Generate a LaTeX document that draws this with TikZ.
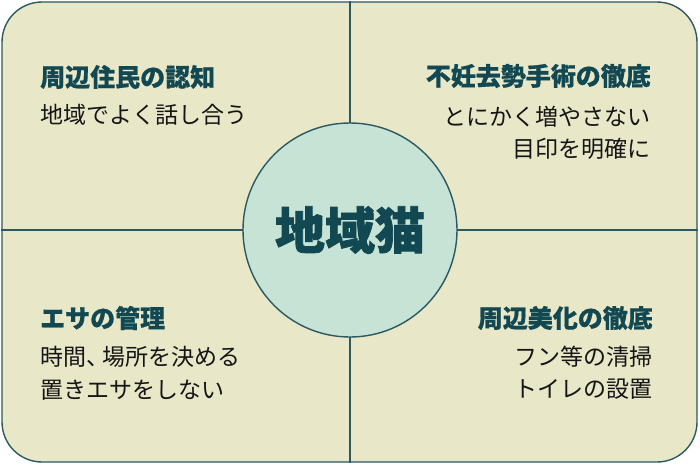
\documentclass[tikz,border=0pt]{standalone}
\usepackage{fontspec}
\newfontfamily\jp{Noto Sans CJK JP}[BoldFeatures={FakeBold=1.5}]
\newfontfamily\jpt{Noto Sans CJK JP}[BoldFeatures={FakeBold=0.6}]
\newfontfamily\jpb{Noto Sans CJK JP}
\definecolor{bgfill}{HTML}{E8E7C8}
\definecolor{edge}{HTML}{2B5861}
\definecolor{circfill}{HTML}{C6E3D5}
\definecolor{titlecol}{HTML}{114852}
\definecolor{bodycol}{HTML}{151515}
\tikzset{
  panel/.style={draw=edge, line width=1.4pt, fill=bgfill, rounded corners=40pt, inner sep=0pt},
  divider/.style={draw=edge, line width=1.2pt},
  hub/.style={circle, draw=edge, line width=1.4pt, fill=circfill, minimum size=214pt, inner sep=0pt,
    text=titlecol, font=\jp\bfseries\fontsize{50}{50}\selectfont},
  ttl/.style={inner sep=0pt, text=titlecol, font=\jpt\bfseries\fontsize{25}{25}\selectfont},
  bodytxt/.style={inner sep=0pt, text=bodycol, font=\jpb\fontsize{23}{23}\selectfont}
}
\begin{document}
\begin{tikzpicture}[x=1pt,y=-1pt]
\useasboundingbox (0,0) rectangle (700,464);
\node[panel, minimum width=695pt, minimum height=460pt] (frame) at (349.5,232) {};
\coordinate (hubc) at (350,230);
\draw[divider] (hubc |- frame.north) -- (hubc |- frame.south);
\draw[divider] (hubc -| frame.west) -- (hubc -| frame.east);
\node[hub] (hub) at (hubc) {地域猫};
% top left
\node[ttl, anchor=west] (t1) at (40,77) {周辺住民の認知};
\node[bodytxt, anchor=west] (b1) at (40,115) {地域でよく話し合う};
% top right
\node[ttl, anchor=east] (t2) at (651,76) {不妊去勢手術の徹底};
\node[bodytxt, anchor=east] (b2a) at (651,117) {とにかく増やさない};
\node[bodytxt, anchor=east] (b2b) at (651,149) {目印を明確に};
% bottom left
\node[ttl, anchor=west] (t3) at (40,318) {エサの管理};
\node[bodytxt, anchor=west] (b3a) at (40,357) {時間、\hspace{-0.3em}場所を決める};
\node[bodytxt, anchor=west] (b3b) at (40,390) {置きエサをしない};
% bottom right
\node[ttl, anchor=east] (t4) at (653,318) {周辺美化の徹底};
\node[bodytxt, anchor=east] (b4a) at (653,357) {フン等の清掃};
\node[bodytxt, anchor=east] (b4b) at (653,389) {トイレの設置};
\end{tikzpicture}
\end{document}
